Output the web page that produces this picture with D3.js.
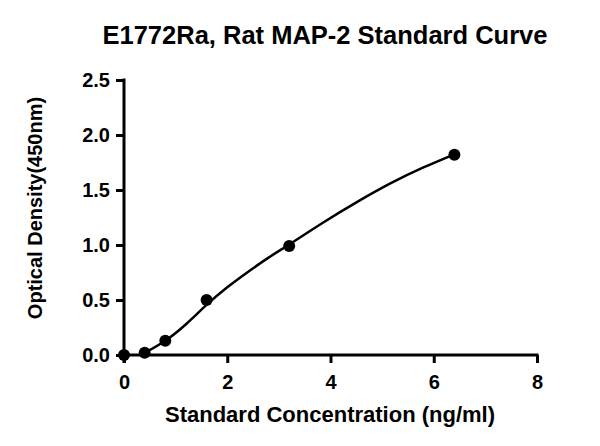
<!DOCTYPE html>
<html lang="en">
<head>
<meta charset="UTF-8">
<script src="https://d3js.org/d3.v7.min.js"></script>
<style>
  body { margin: 0; background: #fff; }
  svg { font-family: "Liberation Sans", Arial, sans-serif; font-weight: bold; }
</style>
</head>
<body>
<div id="chart"></div>
<script>
// standard points
var conc = [0, 0.4, 0.8, 1.6, 3.2, 6.4];
var od = [0, 0.02, 0.13, 0.5, 0.99, 1.82];
// fitted curve
var fitX = [0.4, 0.8, 1.2, 1.6, 2.0, 2.4, 2.8, 3.2, 3.86, 4.51, 5.16, 5.8, 6.4];
var fitY = [0.02, 0.13, 0.28, 0.455, 0.615, 0.755, 0.885, 1.005, 1.205, 1.39, 1.56, 1.705, 1.825];
var xTicks = [0, 2, 4, 6, 8];
var yTicks = [0, 0.5, 1.0, 1.5, 2.0, 2.5];

var width = 600, height = 446;
var margin = {left: 124, top: 80, right: 63, bottom: 91};
var w = width - margin.left - margin.right,
    h = height - margin.top - margin.bottom;

var svg = d3.select("#chart").append("svg").attr("width", width).attr("height", height);
var g = svg.append("g").attr("transform", `translate(${margin.left},${margin.top})`);

var x = d3.scaleLinear().domain([0, 8]).range([0, w]);
var y = d3.scaleLinear().domain([0, 2.5]).range([h, 0]);

var xAxis = g.append("g").attr("transform", `translate(0,${h})`)
  .call(d3.axisBottom(x).tickValues(xTicks).tickSize(8).tickSizeOuter(0).tickFormat(d3.format("d")));
var yAxis = g.append("g")
  .call(d3.axisLeft(y).tickValues(yTicks).tickSize(8).tickSizeOuter(0).tickFormat(d3.format(".1f")));

[xAxis, yAxis].forEach(function(a) {
  a.select(".domain").attr("stroke", "#000").attr("stroke-width", 3);
  a.selectAll(".tick line").attr("stroke", "#000").attr("stroke-width", 3);
  a.selectAll(".tick text").attr("fill", "#000").style("font-size", "20px").style("font-weight", "bold")
    .style("font-family", "Liberation Sans, Arial, sans-serif");
});
xAxis.selectAll(".tick text").attr("y", 20);
yAxis.selectAll(".tick text").attr("x", -14);
// y axis line runs down to the end of the x tick
yAxis.select(".domain").attr("d", `M0,-1.5V${h + 8}`);
xAxis.select(".domain").attr("d", `M0,0H${w + 1.5}`);

// fitted curve
var line = d3.line().x(function(d, i) { return x(fitX[i]); }).y(function(d, i) { return y(fitY[i]); })
  .curve(d3.curveNatural);
g.append("path").datum(fitX).attr("fill", "none").attr("stroke", "#000").attr("stroke-width", 2.5)
  .attr("d", line);

// standard points
g.selectAll("circle.pt").data(conc).enter().append("circle").attr("class", "pt")
  .attr("cx", function(d) { return x(d); })
  .attr("cy", function(d, i) { return y(od[i]); })
  .attr("r", 6).attr("fill", "#000");

// title
svg.append("text").attr("x", 325).attr("y", 44).attr("text-anchor", "middle")
  .style("font-size", "25.5px").text("E1772Ra, Rat MAP-2 Standard Curve");

// axis labels
svg.append("text").attr("x", 330).attr("y", 422).attr("text-anchor", "middle")
  .style("font-size", "22px").text("Standard Concentration (ng/ml)");
svg.append("text").attr("transform", "translate(42,208) rotate(-90)").attr("text-anchor", "middle")
  .style("font-size", "20px").text("Optical Density(450nm)");
</script>
</body>
</html>
